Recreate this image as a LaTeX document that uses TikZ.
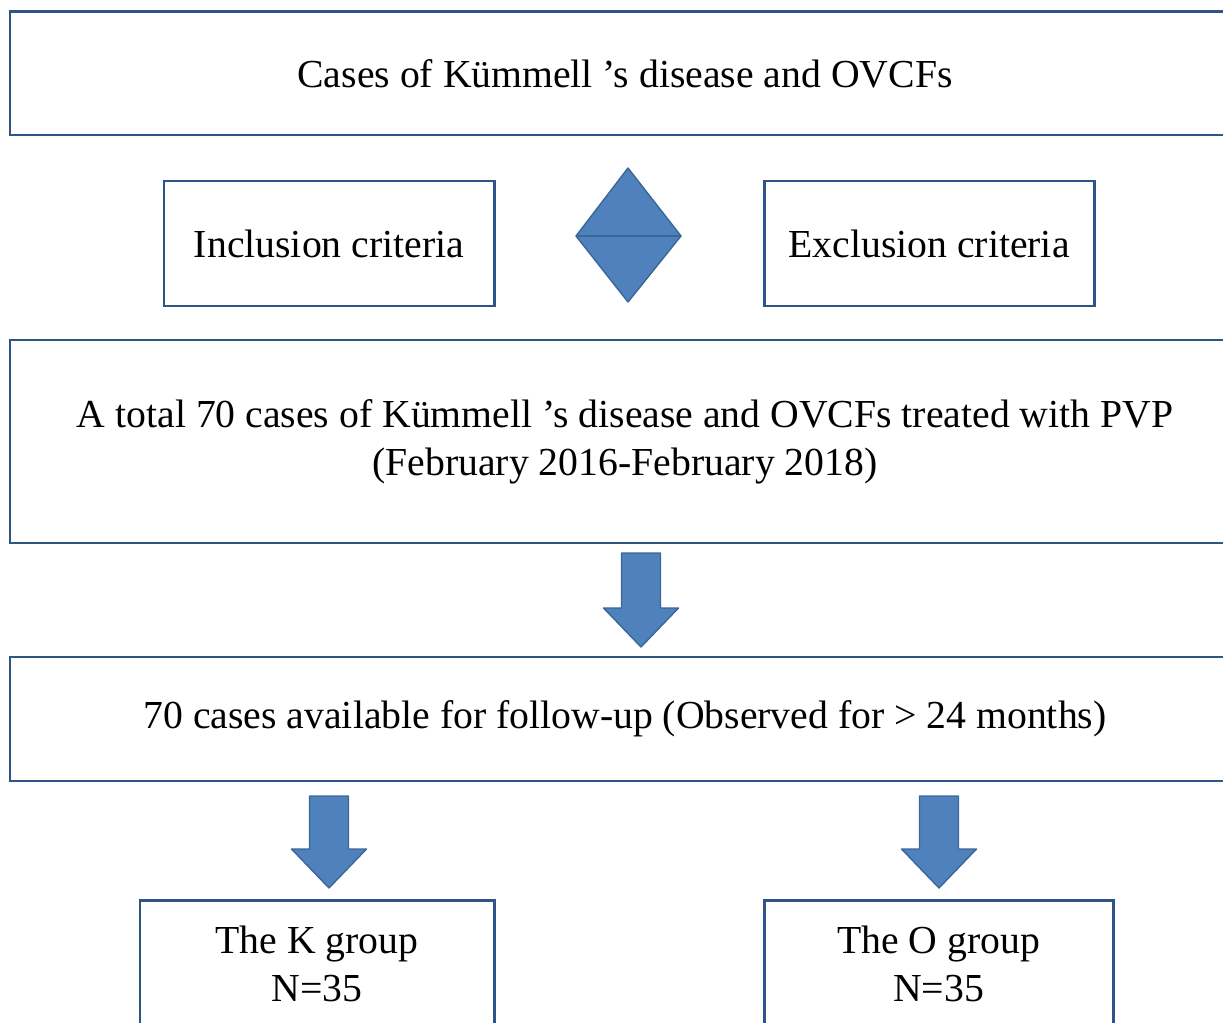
\documentclass[tikz,border=0pt]{standalone}
\usepackage{fontspec}
\setmainfont{Liberation Serif}
\usetikzlibrary{calc,positioning}
\definecolor{boxblue}{HTML}{2F5488}
\definecolor{arrowblue}{HTML}{4F81BD}
\definecolor{arrowedge}{HTML}{3B6699}
\tikzstyle{box} = [draw=boxblue,line width=1.7pt,rectangle,inner sep=0pt,align=center,font=\fontsize{22.6}{27.5}\selectfont]
\tikzstyle{blockarrow} = [fill=arrowblue,draw=arrowedge,line width=0.8pt,line join=round]
\def \px {0.02cm}
% block arrow pointing down from #1 to #2
\newcommand{\blockdown}[2]{%
  \draw[blockarrow] ($(#1)+(-19.5,0)$) -- ($(#1)+(19.5,0)$) -- ($(#2)+(19.5,-39)$)
    -- ($(#2)+(37.5,-39)$) -- (#2) -- ($(#2)+(-37.5,-39)$) -- ($(#2)+(-19.5,-39)$) -- cycle;}

\begin{document}
\begin{tikzpicture}[x=\px,y=-\px]
  \useasboundingbox (0,0) rectangle (1223,1023);
  \clip (0,0) rectangle (1223,1023);
  \node[box,minimum width={1230*\px},minimum height={123*\px}] (cases) at (625,73.5) {Cases of Kümmell ’s disease and OVCFs};
  \node[box,minimum width={330*\px},minimum height={125*\px}] (incl) at (329,243.5) {Inclusion criteria};
  \node[box,minimum width={330*\px},minimum height={125*\px}] (excl) at (929,243.5) {Exclusion criteria};
  % diamond between the criteria
  \coordinate (dtop) at (628,168);
  \coordinate (dright) at (681,236);
  \coordinate (dbot) at (628,302);
  \coordinate (dleft) at (576,236);
  \draw[blockarrow] (dtop) -- (dright) -- (dbot) -- (dleft) -- cycle;
  \draw[draw=arrowedge,line width=0.8pt] (dleft) -- (dright);
  \node[box,minimum width={1230*\px},minimum height={203*\px}] (total) at (625,441.5) {A total 70 cases of Kümmell ’s disease and OVCFs treated with PVP\\(February 2016-February 2018)};
  \node[box,minimum width={1230*\px},minimum height={124*\px}] (follow) at (625,719) {70 cases available for follow-up (Observed for > 24 months)};
  \node[box,minimum width={354*\px},minimum height={128*\px}] (kgroup) at (317,964) {The K group\\N=35};
  \node[box,minimum width={349*\px},minimum height={128*\px}] (ogroup) at (938.5,964) {The O group\\N=35};
  % arrows
  \coordinate (a1s) at (641,553);
  \coordinate (a1e) at (641,647);
  \coordinate (a2s) at (329,796);
  \coordinate (a2e) at (329,888);
  \coordinate (a3s) at (939,796);
  \coordinate (a3e) at (939,888);
  \blockdown{a1s}{a1e}
  \blockdown{a2s}{a2e}
  \blockdown{a3s}{a3e}
\end{tikzpicture}
\end{document}
